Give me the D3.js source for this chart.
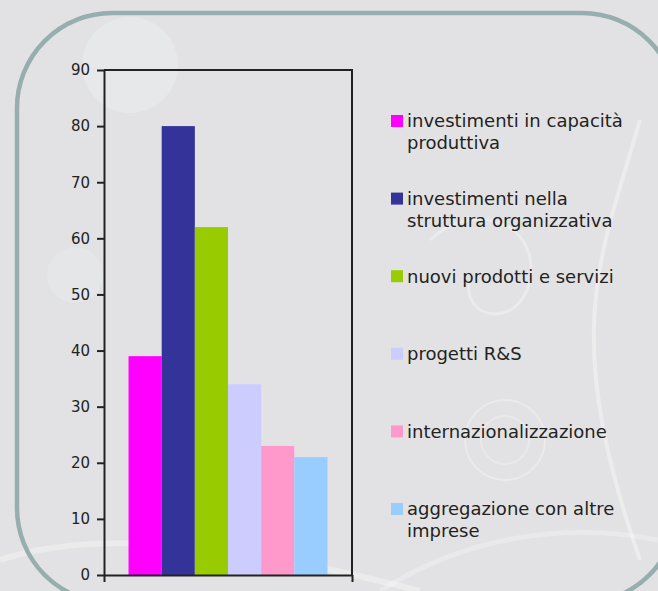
<!DOCTYPE html>
<html>
<head>
<meta charset="utf-8">
<script src="https://cdn.jsdelivr.net/npm/d3@7"></script>
<style>
body { margin: 0; background: #e2e2e4; }
svg { display: block; }
</style>
</head>
<body>
<svg id="chart" width="658" height="591"></svg>
<script>
// data
var series = ["investimenti in capacità produttiva", "investimenti nella struttura organizzativa",
  "nuovi prodotti e servizi", "progetti R&S", "internazionalizzazione", "aggregazione con altre imprese"];
var values = [39, 80, 62, 34, 23, 21];
var colors = ["#ff00ff", "#333399", "#99cc00", "#ccccff", "#ff99cc", "#99ccff"];
var legendLines = [["investimenti in capacità", "produttiva"], ["investimenti nella", "struttura organizzativa"],
  ["nuovi prodotti e servizi"], ["progetti R&S"], ["internazionalizzazione"], ["aggregazione con altre", "imprese"]];
var yTicks = [0, 10, 20, 30, 40, 50, 60, 70, 80, 90];

var svg = d3.select("#chart");
var font = "'DejaVu Sans', sans-serif";

// background decorations
var deco = svg.append("g").attr("fill", "none").attr("stroke", "#ffffff");
deco.append("circle").attr("cx", 130).attr("cy", 65).attr("r", 48)
  .attr("fill", "#eaeeee").attr("stroke", "none").attr("opacity", 0.5);
deco.append("circle").attr("cx", 75).attr("cy", 275).attr("r", 28)
  .attr("fill", "#eaeeee").attr("stroke", "none").attr("opacity", 0.4);
deco.append("circle").attr("cx", 505).attr("cy", 440).attr("r", 40).attr("stroke-width", 2).attr("opacity", 0.3);
deco.append("circle").attr("cx", 505).attr("cy", 440).attr("r", 24).attr("stroke-width", 2).attr("opacity", 0.25);
deco.append("path").attr("d", "M640,120 C600,260 560,330 640,560").attr("stroke-width", 4).attr("opacity", 0.35);
deco.append("path").attr("d", "M430,240 C470,200 540,220 530,280 C520,330 460,320 470,280").attr("stroke-width", 3).attr("opacity", 0.3);
deco.append("path").attr("d", "M0,560 C120,520 300,560 420,591").attr("stroke-width", 6).attr("opacity", 0.3);
deco.append("path").attr("d", "M380,591 C460,540 560,520 658,540").attr("stroke-width", 5).attr("opacity", 0.25);

// rounded frame
svg.append("rect")
  .attr("x", 17).attr("y", 13).attr("width", 660).attr("height", 590)
  .attr("rx", 95).attr("ry", 95)
  .attr("fill", "none").attr("stroke", "#97aeae").attr("stroke-width", 4.5);

// plot area
var pLeft = 104, pRight = 352, pTop = 70, pBottom = 575;

var y = d3.scaleLinear().domain([0, 90]).range([pBottom, pTop]);
var x = d3.scaleBand().domain(series).range([pLeft, pRight]).paddingInner(0).paddingOuter(0.74);

var plot = svg.append("g");

plot.selectAll("rect.bar")
  .data(values)
  .enter().append("rect")
  .attr("class", "bar")
  .attr("x", function(d, i) { return x(series[i]); })
  .attr("y", function(d) { return y(d); })
  .attr("width", x.bandwidth())
  .attr("height", function(d) { return y(0) - y(d); })
  .attr("fill", function(d, i) { return colors[i]; });

// frame lines top and right
plot.append("path")
  .attr("d", "M" + pLeft + "," + pTop + "H" + pRight + "V" + pBottom)
  .attr("fill", "none").attr("stroke", "#222").attr("stroke-width", 2);

// y axis
var yAxis = plot.append("g")
  .attr("transform", "translate(" + pLeft + ",0)")
  .call(d3.axisLeft(y).tickValues(yTicks).tickSize(7).tickPadding(7).tickSizeOuter(0));
yAxis.select(".domain").attr("stroke", "#222").attr("stroke-width", 2);
yAxis.selectAll(".tick line").attr("stroke", "#222").attr("stroke-width", 2);
yAxis.selectAll(".tick text").attr("fill", "#222").style("font-family", font).style("font-size", "15px");

// x axis: one category, ticks at its edges
var xEdge = d3.scaleLinear().domain([0, 1]).range([pLeft, pRight]);
var xAxis = plot.append("g")
  .attr("transform", "translate(0," + pBottom + ")")
  .call(d3.axisBottom(xEdge).tickValues([0, 1]).tickSize(7).tickSizeOuter(0).tickFormat(""));
xAxis.select(".domain").attr("stroke", "#222").attr("stroke-width", 2);
xAxis.selectAll(".tick line").attr("stroke", "#222").attr("stroke-width", 2);

// legend
var ly = d3.scalePoint().domain(series).range([121, 509]);
var legend = svg.append("g").selectAll("g")
  .data(series)
  .enter().append("g")
  .attr("transform", function(d) { return "translate(391," + ly(d) + ")"; });

legend.append("rect")
  .attr("x", 0).attr("y", -6).attr("width", 12).attr("height", 12)
  .attr("fill", function(d, i) { return colors[i]; });

legend.append("text")
  .attr("fill", "#222")
  .style("font-family", font).style("font-size", "18px")
  .selectAll("tspan")
  .data(function(d, i) { return legendLines[i]; })
  .enter().append("tspan")
  .attr("x", 16)
  .attr("dy", function(d, j) { return j === 0 ? "0.35em" : "22px"; })
  .text(function(d) { return d; });
</script>
</body>
</html>
